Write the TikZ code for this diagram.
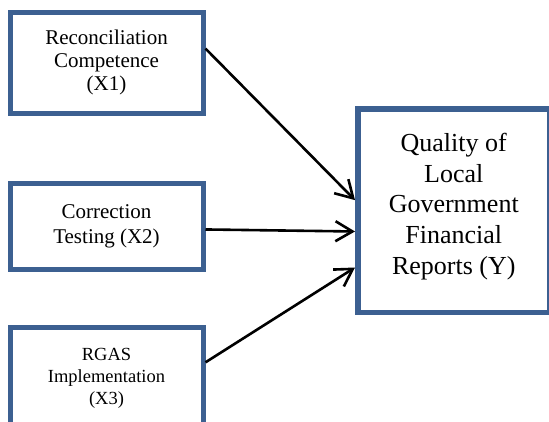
\documentclass[tikz,border=0pt]{standalone}
\usepackage{fontspec}
\setmainfont{Liberation Serif}
\usetikzlibrary{arrows.meta}
\definecolor{boxblue}{RGB}{60,96,145}

\begin{document}
\begin{tikzpicture}[x=1pt,y=-1pt,
  box/.style={draw=boxblue,line width=5pt,rectangle,align=center,inner sep=0pt},
  link/.style={draw=black,line width=2.6pt,-{Straight Barb[length=17pt,width=20pt,line width=2.6pt]}}]
\useasboundingbox (0,0) rectangle (549,421);
\clip (0,0) rectangle (549,421);
\node[box,minimum width=193pt,minimum height=101pt,font=\fontsize{21}{23}\selectfont] (x1) at (106.5,62.5) {Reconciliation\\Competence\\(X1)};
\node[box,minimum width=193pt,minimum height=86pt,font=\fontsize{21}{25}\selectfont] (x2) at (106.5,226) {Correction\\Testing (X2)};
\node[box,minimum width=193pt,minimum height=102pt,font=\fontsize{18.5}{22}\selectfont] (x3) at (106.5,378) {RGAS\\Implementation\\(X3)};
\node[box,line width=5.5pt,minimum width=192pt,minimum height=203.5pt] (y) at (453.75,210.5) {};
\node[align=center,inner sep=0pt,font=\fontsize{26}{30.7}\selectfont] (ytext) at (y.center) [yshift=4pt] {Quality of\\Local\\Government\\Financial\\Reports (Y)};
% paths into Y
\draw[link] (x1.8) -- (y.174.9);
\draw[link] (x2.-2.4) -- (y.192.7);
\draw[link] (x3.9.4) -- (y.210.5);
\end{tikzpicture}
\end{document}
